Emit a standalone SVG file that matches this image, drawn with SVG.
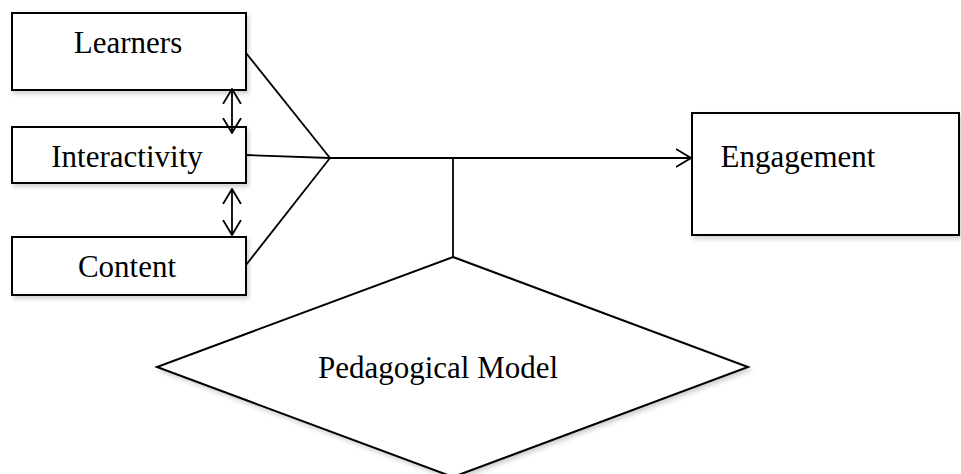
<svg xmlns="http://www.w3.org/2000/svg" width="961" height="474" viewBox="0 0 961 474">
<style>
.box{fill:#fff;stroke:#000;stroke-width:2;filter:url(#sh)}
.lbl{font-family:"Liberation Serif","Times New Roman",serif;font-size:31px;fill:#000;text-anchor:middle}
.ln{fill:none;stroke:#000;stroke-width:1.8}
</style>
<defs>
<filter id="sh" x="-10%" y="-10%" width="130%" height="140%">
<feDropShadow dx="2" dy="3" stdDeviation="2" flood-color="#000" flood-opacity="0.18"/>
</filter>
<marker id="ah" viewBox="0 0 16 20" refX="15" refY="10" markerWidth="16" markerHeight="20" markerUnits="userSpaceOnUse" orient="auto-start-reverse">
<path d="M0,1 L15,10 L0,19" fill="none" stroke="#000" stroke-width="1.8"/>
</marker>
</defs>
<rect width="961" height="474" fill="#fff"/>
<g id="learners"><rect class="box" x="12" y="13" width="234" height="77"/><text class="lbl" x="128" y="53">Learners</text></g>
<g id="interactivity"><rect class="box" x="12" y="127" width="234" height="56"/><text class="lbl" x="127" y="167">Interactivity</text></g>
<g id="content"><rect class="box" x="12" y="237" width="234" height="58"/><text class="lbl" x="127" y="277">Content</text></g>
<g id="engagement"><rect class="box" x="692" y="113" width="267" height="122"/><text class="lbl" x="798" y="167">Engagement</text></g>
<g id="pedagogical-model"><polygon class="box" points="453,257 748,367 453,477 157,367"/><text class="lbl" x="438" y="378">Pedagogical Model</text></g>
<g id="connectors">
<line class="ln" x1="232" y1="89" x2="232" y2="133" marker-start="url(#ah)" marker-end="url(#ah)"/>
<line class="ln" x1="232" y1="189" x2="232" y2="235" marker-start="url(#ah)" marker-end="url(#ah)"/>
<line class="ln" x1="246" y1="53" x2="330" y2="158"/>
<line class="ln" x1="246" y1="155" x2="330" y2="158"/>
<line class="ln" x1="246" y1="265" x2="330" y2="158"/>
<line class="ln" x1="330" y1="158" x2="691" y2="158" marker-end="url(#ah)"/>
<line class="ln" x1="453" y1="158" x2="453" y2="257"/>
</g>
</svg>
